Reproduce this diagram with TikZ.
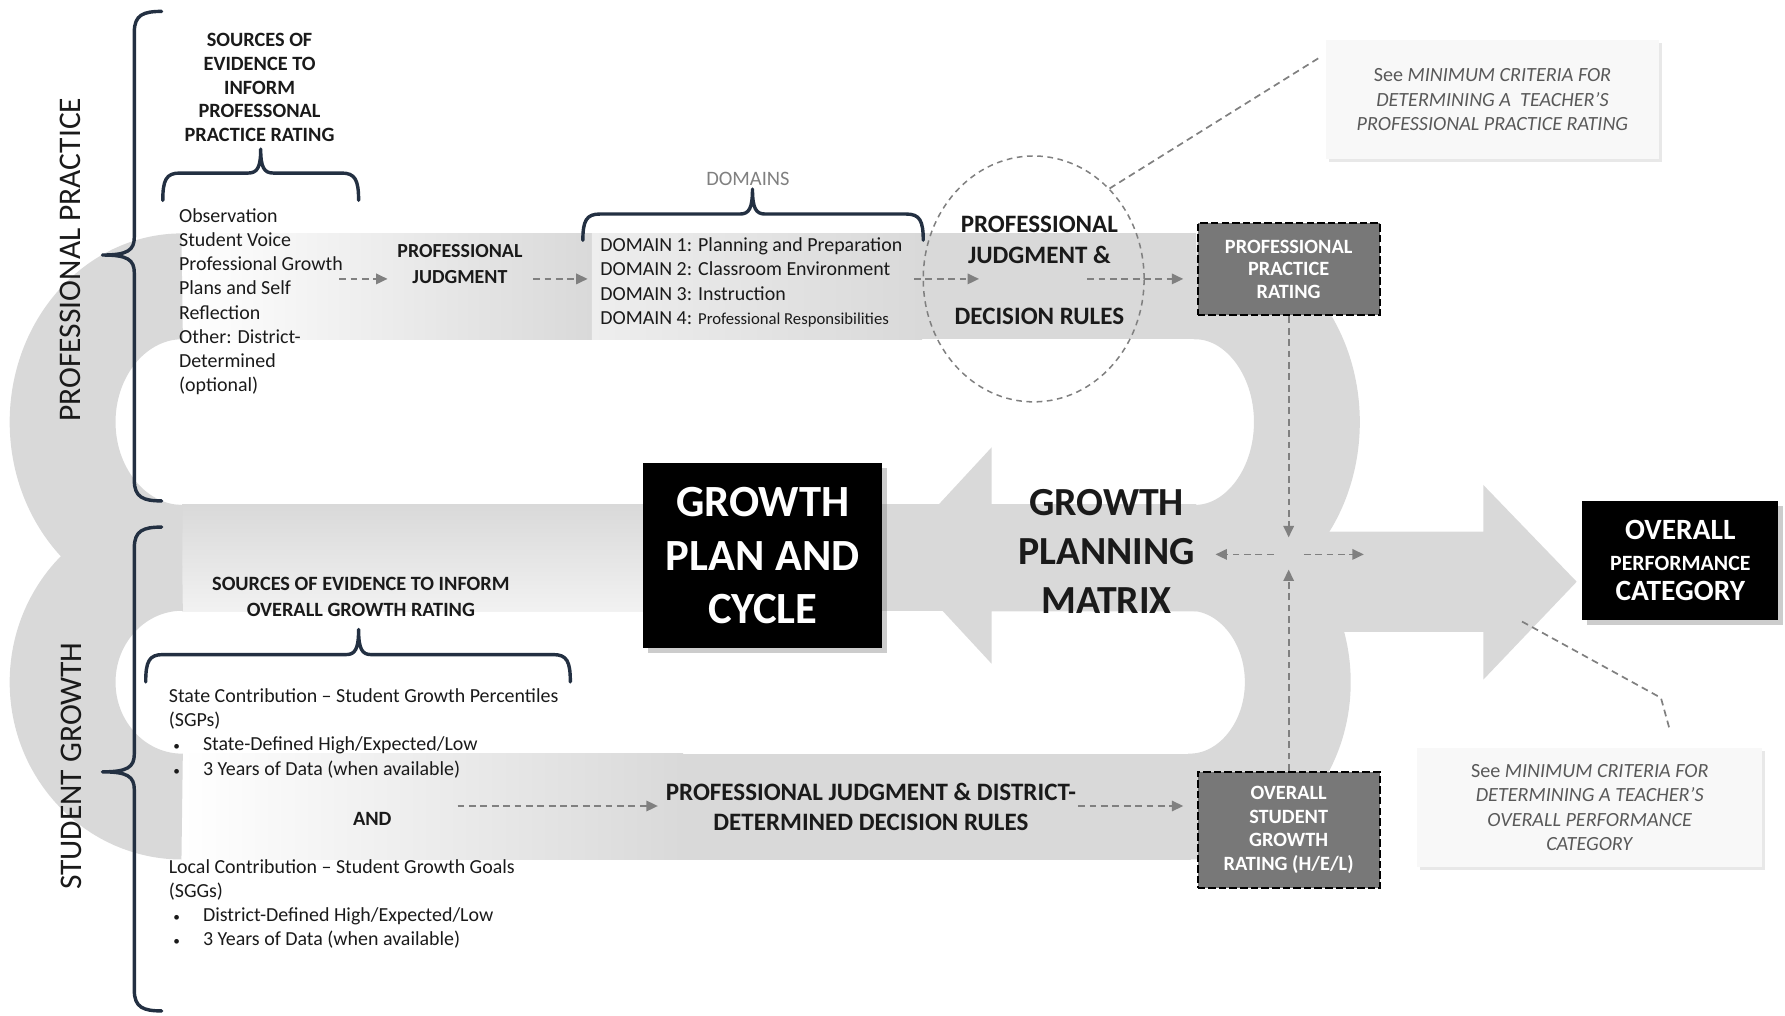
\documentclass[tikz,border=0pt]{standalone}
\usepackage{fontspec}
\setmainfont{Carlito}
\usetikzlibrary{arrows.meta,shapes.geometric,shadows}
\definecolor{bandg}{RGB}{217,217,217}
\definecolor{bracec}{RGB}{35,48,66}
\definecolor{arrc}{RGB}{128,128,128}
\definecolor{txtc}{RGB}{26,26,26}
\definecolor{notetxt}{RGB}{89,89,89}
\definecolor{ratef}{RGB}{120,120,120}
\definecolor{notef}{RGB}{248,248,248}
\newcommand{\sgbul}{\hspace*{2.4pt}\makebox[15.6pt][l]{\fontsize{7}{7}\selectfont\textbullet}}
\begin{document}
\begin{tikzpicture}[x=0.6pt,y=-0.6pt,
  band/.style={draw=bandg, line width=55.8pt},
  brace/.style={draw=bracec, line width=1.8pt, line cap=round, line join=round},
  darrow/.style={draw=arrc, line width=0.9pt, dash pattern=on 3.6pt off 2.4pt, -{Triangle[length=6pt,width=5.5pt]}},
  dline/.style={draw=arrc, line width=0.9pt, dash pattern=on 3.6pt off 2.4pt},
  plain/.style={text=txtc, inner sep=0pt, font=\fontsize{10.5}{12.8}\selectfont},
  capsb/.style={text=txtc, inner sep=1pt, align=center, font=\bfseries\fontsize{10.7}{12.5}\selectfont},
  ratebox/.style={fill=ratef, draw=black, line width=1.1pt, dash pattern=on 4pt off 1.6pt, text=white, align=center, minimum width=96pt, font=\bfseries\fontsize{10.7}{12}\selectfont, inner sep=0pt},
  blackbox/.style={fill=black, text=white, align=center, inner sep=0pt, drop shadow={opacity=0.4, shadow xshift=2.5pt, shadow yshift=-2.5pt}},
  notebox/.style={fill=notef, text=notetxt, align=center, inner sep=0pt, minimum height=63pt, font=\fontsize{10.6}{12.9}\selectfont, drop shadow={opacity=0.18, shadow xshift=1.5pt, shadow yshift=-1.5pt}},
  dellipse/.style={ellipse, draw=arrc, line width=0.8pt, dash pattern=on 3pt off 2.4pt, inner sep=0pt, minimum width=116.4pt, minimum height=129.6pt}
]
\useasboundingbox (0,0) rectangle (1568,892);
% ---------- grey ribbon ----------
\shade[left color=white, right color=bandg] (160,205) rectangle (520,298);
\shade[left color=bandg!45, right color=bandg] (520,205) rectangle (810,298);
\fill[bandg] (810,205) rectangle (1051,298);
\shade[top color=bandg, bottom color=bandg!35] (160,443) rectangle (566,537);
\fill[bandg] (775,443) rectangle (1051,537);
\shade[left color=white, right color=bandg] (160,662) rectangle (600,755);
\fill[bandg] (600,662) rectangle (1046,755);
\draw[band] (160,251.5) .. controls (102,251.5) and (55,304.89) .. (55,370.75) .. controls (55,436.61) and (102,490) .. (160,490);
\draw[band] (160,490) .. controls (102,490) and (55,538.91) .. (55,599.25) .. controls (55,659.59) and (102,708.5) .. (160,708.5);
\draw[band] (1050,251.5) .. controls (1104.13,251.5) and (1148,304.89) .. (1148,370.75) .. controls (1148,436.61) and (1104.13,490) .. (1050,490);
\draw[band] (1045,490) .. controls (1097.47,490) and (1140,538.91) .. (1140,599.25) .. controls (1140,659.59) and (1097.47,708.5) .. (1045,708.5);
\fill[bandg] (783,488) -- (871,393) -- (871,443) -- (1051,443) -- (1051,537) -- (871,537) -- (871,583) -- cycle;
\fill[bandg] (1120,467) -- (1303,467) -- (1303,426) -- (1385,511) -- (1303,597) -- (1303,555) -- (1120,555) -- cycle;
% ---------- braces ----------
\draw[brace] (142,10) .. controls (126,10) and (118,13) .. (118,28) -- (118,208) .. controls (118,220) and (112,224) .. (90,224) .. controls (112,224) and (118,228) .. (118,240) -- (118,422) .. controls (118,437) and (126,440) .. (142,440);
\draw[brace] (142,463) .. controls (126,463) and (118,466) .. (118,481) -- (118,662) .. controls (118,674) and (112,678) .. (90,678) .. controls (112,678) and (118,682) .. (118,694) -- (118,870) .. controls (118,885) and (126,888) .. (142,888);
\draw[brace] (143,176) .. controls (143,158) and (146,152) .. (158,152) -- (218,152) .. controls (226,152) and (229,147) .. (229,131) .. controls (229,147) and (232,152) .. (240,152) -- (300,152) .. controls (312,152) and (315,158) .. (315,176);
\draw[brace] (512,211) .. controls (512,194) and (515,188) .. (527,188) -- (650,188) .. controls (658,188) and (661,183) .. (661,166) .. controls (661,183) and (664,188) .. (672,188) -- (796,188) .. controls (808,188) and (811,194) .. (811,211);
\draw[brace] (128,599) .. controls (128,581) and (131,575) .. (143,575) -- (304,575) .. controls (312,575) and (315,570) .. (315,553) .. controls (315,570) and (318,575) .. (326,575) -- (486,575) .. controls (498,575) and (501,581) .. (501,599);
% ---------- nodes ----------
\node[rotate=90, text=txtc, font=\fontsize{16.6}{19}\selectfont] (pplab) at (62,228) {PROFESSIONAL PRACTICE};
\node[rotate=90, text=txtc, font=\fontsize{16.6}{19}\selectfont] (sglab) at (63,673) {STUDENT GROWTH};
\node[capsb] (srcpp) at (228,77) {SOURCES OF\\EVIDENCE TO\\INFORM\\PROFESSONAL\\PRACTICE RATING};
\node[plain, anchor=west, align=left] (pplist) at (157,265) {Observation\\Student Voice\\Professional Growth\\Plans and Self\\Reflection\\Other: District-\\Determined\\(optional)};
\node[capsb, font=\bfseries\fontsize{10.5}{13.8}\selectfont] (pj) at (404,232) {PROFESSIONAL\\JUDGMENT};
\node[plain, text=arrc, font=\fontsize{10.8}{12.8}\selectfont] (domt) at (657,157) {DOMAINS};
\node[plain, anchor=west, align=left] (doml) at (527,248) {DOMAIN 1: Planning and Preparation\\DOMAIN 2: Classroom Environment\\DOMAIN 3: Instruction\\DOMAIN 4: {\fontsize{8.8}{9}\selectfont Professional Responsibilities}};
\node[dellipse] (circ) at (908,245) {};
\node[capsb, font=\bfseries\fontsize{13.2}{16.2}\selectfont] (pjdr) at (913,237.5) {PROFESSIONAL\\JUDGMENT \&\\[16.2pt]DECISION RULES};
\node[notebox, minimum width=175.2pt] (note1) at (1311,87.5) {See \textit{MINIMUM CRITERIA FOR}\\\textit{DETERMINING A\ \ TEACHER'S}\\\textit{PROFESSIONAL PRACTICE RATING}};
\node[ratebox, minimum height=48.6pt] (ppr) at (1132,236.5) {PROFESSIONAL\\PRACTICE\\RATING};
\node[text=txtc, align=center, inner sep=1pt, font=\bfseries\fontsize{21}{25.8}\selectfont] (gpm) at (972,484) {GROWTH\\PLANNING\\MATRIX};
\node[blackbox, minimum width=126pt, minimum height=97.2pt, font=\bfseries\fontsize{23.5}{28.2}\selectfont] (gpc) at (670,488) {GROWTH\\PLAN AND\\CYCLE};
\node[blackbox, minimum width=103.2pt, minimum height=63pt, font=\bfseries\fontsize{15.5}{16.2}\selectfont] (opc) at (1476,492.5) {OVERALL\\{\fontsize{11.5}{16.2}\selectfont PERFORMANCE}\\CATEGORY};
\node[notebox, minimum width=181.8pt] (note2) at (1396.5,709.5) {See \textit{MINIMUM CRITERIA FOR}\\\textit{DETERMINING A TEACHER'S}\\\textit{OVERALL PERFORMANCE}\\\textit{CATEGORY}};
\node[capsb, font=\bfseries\fontsize{10.7}{13.8}\selectfont] (srcsg) at (317,524.5) {SOURCES OF EVIDENCE TO INFORM\\OVERALL GROWTH RATING};
\node[plain, anchor=west, align=left] (sgl1) at (148,644) {State Contribution -- Student Growth Percentiles\\(SGPs)\\\sgbul State-Defined High/Expected/Low\\\sgbul 3 Years of Data (when available)};
\node[capsb] (andn) at (327,719) {AND};
\node[plain, anchor=west, align=left] (sgl2) at (148,794) {Local Contribution -- Student Growth Goals\\(SGGs)\\\sgbul District-Defined High/Expected/Low\\\sgbul 3 Years of Data (when available)};
\node[capsb, font=\bfseries\fontsize{13.2}{15.6}\selectfont] (pjd) at (765,709) {PROFESSIONAL JUDGMENT \& DISTRICT-\\DETERMINED DECISION RULES};
\node[ratebox, minimum height=61.2pt, font=\bfseries\fontsize{10.7}{12.6}\selectfont] (osg) at (1132,729) {OVERALL\\STUDENT\\GROWTH\\RATING (H/E/L)};
% ---------- coordinates ----------
\coordinate (a1s) at (298,245);
\coordinate (a3e) at (860,245);
\coordinate (a4s) at (955,245);
\coordinate (cx) at (1132,487);
\coordinate (rae) at (1198,487);
\coordinate (a5s) at (402,708);
\coordinate (n1c) at (1160,50);
\coordinate (n2a) at (1337,546);
\coordinate (n2b) at (1459,613);
\coordinate (n2c) at (1467,642);
% ---------- connectors ----------
\draw[darrow, shorten >=4pt] (a1s) -- (pj.west |- a1s);
\draw[darrow, shorten <=4.5pt, shorten >=6.5pt] (pj.east |- a1s) -- (doml.west |- a1s);
\draw[darrow, shorten <=6pt] (doml.east |- a1s) -- (a3e);
\draw[darrow, shorten >=7pt] (a4s) -- (ppr.west |- a4s);
\draw[dline] (circ.50) -- (n1c);
\draw[darrow, shorten >=9pt] (ppr.south) -- (cx);
\draw[darrow, shorten >=8pt] (osg.north) -- (cx);
\draw[darrow, shorten <=8pt, shorten >=9.6pt] (cx) -- (gpm.east |- cx);
\draw[darrow, shorten <=8pt] (cx) -- (rae);
\draw[darrow, shorten >=3pt] (a5s) -- (pjd.west |- a5s);
\draw[darrow, shorten >=7pt] (pjd.east |- a5s) -- (osg.west |- a5s);
\draw[dline] (n2a) -- (n2b) -- (n2c);
\end{tikzpicture}
\end{document}
